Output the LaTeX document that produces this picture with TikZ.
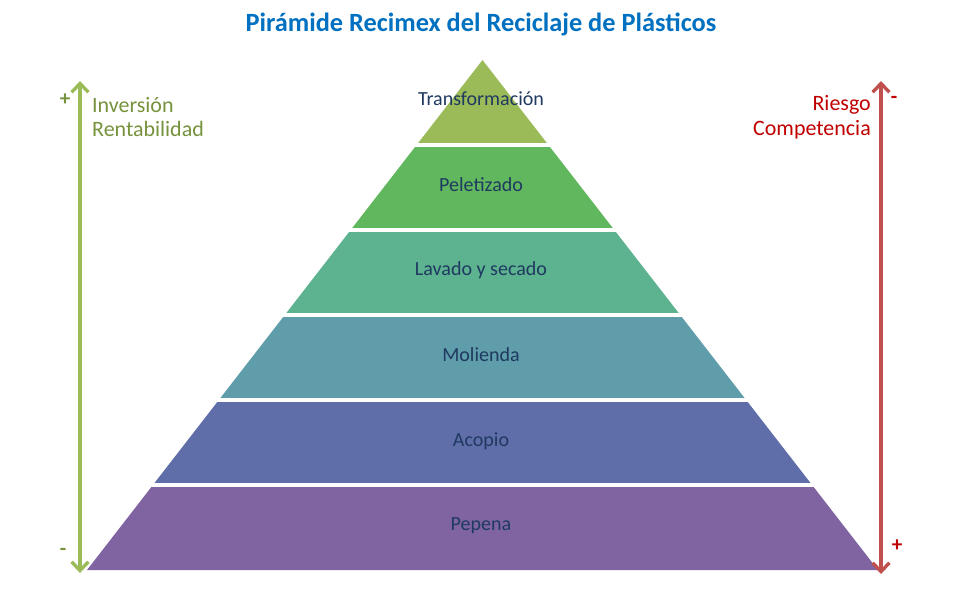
\documentclass[tikz,border=0pt]{standalone}
\usepackage{fontspec}
\setmainfont{Carlito}
\usetikzlibrary{calc,arrows.meta,positioning}

\definecolor{capa1}{HTML}{9BBB59}
\definecolor{capa2}{HTML}{61B75D}
\definecolor{capa3}{HTML}{5DB290}
\definecolor{capa4}{HTML}{5F9DAB}
\definecolor{capa5}{HTML}{5F6DA8}
\definecolor{capa6}{HTML}{8064A2}
\definecolor{texto}{HTML}{1F3A60}
\definecolor{titulo}{HTML}{0070C0}
\definecolor{verde}{HTML}{76923C}
\definecolor{flechav}{HTML}{9BBB59}
\definecolor{rojo}{HTML}{C00000}
\definecolor{flechar}{HTML}{C0504D}

\begin{document}
\begin{tikzpicture}[x=0.02cm,y=-0.02cm,
  lbl/.style={text=texto,font=\fontsize{11.4}{13}\selectfont},
  eje/.style={line width=1.9pt,{Straight Barb[length=5pt,width=9.5pt]}-{Straight Barb[length=5pt,width=9.5pt]}}]

\useasboundingbox (0,0) rectangle (962,593);

%\draw[help lines,gray!30] (0,0) grid[step=50] (962,593);

\coordinate (A) at (482.5,60);
\coordinate (L) at (87,570);
\coordinate (R) at (878,570);

% capas
\foreach \c [count=\k from 0] in {capa1,capa2,capa3,capa4,capa5,capa6}{
  \pgfmathsetmacro{\ta}{\k/6}
  \pgfmathsetmacro{\tb}{(\k+1)/6}
  \fill[\c] ($(A)!\ta!(L)$) -- ($(A)!\tb!(L)$) -- ($(A)!\tb!(R)$) -- ($(A)!\ta!(R)$) -- cycle;
}
\foreach \k in {1,...,5}{
  \draw[white,line width=1.8pt] ($(A)!\k/6!(L)+(-10,0)$) -- ($(A)!\k/6!(R)+(10,0)$);
}

\node[lbl] (transf) at (481,99) {Transformación};
\node[lbl] (pelet) at (481,185) {Peletizado};
\node[lbl] (lavado) at (481,270) {Lavado y secado};
\node[lbl] (molienda) at (481,355) {Molienda};
\node[lbl] (acopio) at (481,441) {Acopio};
\node[lbl] (pepena) at (481,526) {Pepena};

\node[text=titulo,font=\fontsize{15}{17}\selectfont\bfseries] (titulo) at (481,24) {Pirámide Recimex del Reciclaje de Plásticos};

% ejes
\coordinate (vtop) at (80,81);
\coordinate (vbot) at (80,573);
\coordinate (rtop) at (881,81);
\coordinate (rbot) at (881,574);
\draw[eje,flechav] (vtop) -- (vbot);
\draw[eje,flechar] (rtop) -- (rbot);

\node[anchor=west,align=left,text=verde,font=\fontsize{12.5}{14.2}\selectfont] (inv) at (86,117) {Inversión\\Rentabilidad};
\node[anchor=east,align=right,text=rojo,font=\fontsize{12.5}{14.2}\selectfont] (riesgo) at (877,117) {Riesgo\\Competencia};

\node[text=verde,font=\large\bfseries] (vmas) at (65,100) {+};
\node[text=verde,font=\large\bfseries] (vmenos) at (63,552) {-};
\node[text=rojo,font=\large\bfseries] (rmenos) at (894,100) {-};
\node[text=rojo,font=\large\bfseries] (rmas) at (897,546) {+};

\end{tikzpicture}
\end{document}
